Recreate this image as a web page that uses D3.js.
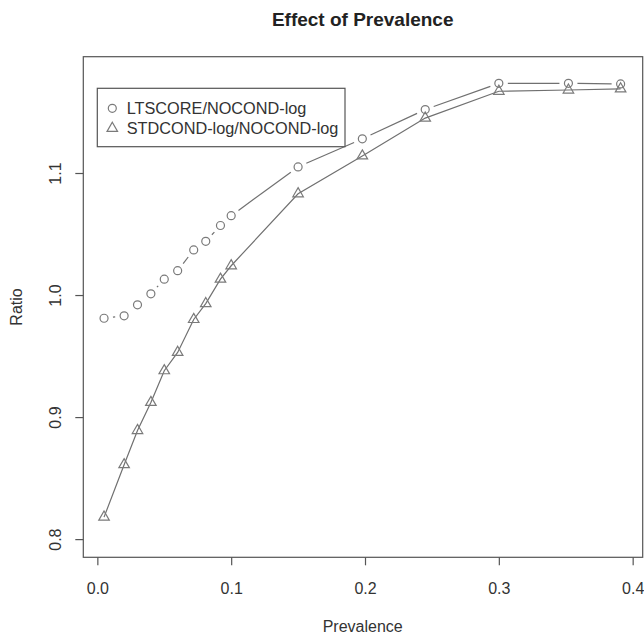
<!DOCTYPE html>
<html>
<head>
<meta charset="utf-8">
<script src="https://d3js.org/d3.v7.min.js"></script>
<style>
  body { margin: 0; background: #fff; }
  text { font-family: "Liberation Sans", Arial, Helvetica, sans-serif; fill: #333; }
</style>
</head>
<body>
<svg id="chart" width="644" height="636"></svg>
<script>
// values
const prevalence = [0.005, 0.02, 0.03, 0.04, 0.05, 0.06, 0.072, 0.081, 0.092, 0.1, 0.15, 0.198, 0.245, 0.3, 0.352, 0.391];
const ltscore   = [0.981, 0.983, 0.992, 1.001, 1.013, 1.020, 1.037, 1.044, 1.057, 1.065, 1.105, 1.128, 1.152, 1.1735, 1.1735, 1.173];
const stdcond   = [0.818, 0.861, 0.889, 0.912, 0.938, 0.953, 0.980, 0.993, 1.013, 1.024, 1.083, 1.114, 1.145, 1.167, 1.168, 1.169];
const xTicks = [0, 0.1, 0.2, 0.3, 0.4];
const yTicks = [0.8, 0.9, 1.0, 1.1];
const seriesNames = ["LTSCORE/NOCOND-log", "STDCOND-log/NOCOND-log"];

const svg = d3.select("#chart");
const plotL = 83.3, plotR = 642.7, plotT = 56.7, plotB = 557.3;
const axisCol = "#555", lineCol = "#707070", ptCol = "#7a7a7a";

const x = d3.scaleLinear().domain([-0.0105, 0.4075]).range([plotL, plotR]);
const y = d3.scaleLinear().domain([0.7851, 1.1953]).range([plotB, plotT]);

// box
svg.append("rect")
  .attr("x", plotL).attr("y", plotT)
  .attr("width", plotR - plotL).attr("height", plotB - plotT)
  .attr("fill", "none").attr("stroke", axisCol).attr("stroke-width", 1.2);

// axes
const xAxis = svg.append("g")
  .attr("transform", `translate(0,${plotB})`)
  .call(d3.axisBottom(x).tickValues(xTicks).tickSize(8).tickPadding(17).tickFormat(d3.format(".1f")));
const yAxis = svg.append("g")
  .attr("transform", `translate(${plotL},0)`)
  .call(d3.axisLeft(y).tickValues(yTicks).tickSize(8).tickFormat(d3.format(".1f")));

[xAxis, yAxis].forEach(a => {
  a.select(".domain").remove();
  a.selectAll(".tick line").attr("stroke", axisCol).attr("stroke-width", 1.2);
  a.selectAll(".tick text").attr("fill", "#333").style("font-size", "16px")
    .style("font-family", "'Liberation Sans', Arial, sans-serif");
});
yAxis.selectAll(".tick text")
  .attr("x", null).attr("dy", null)
  .attr("text-anchor", "middle")
  .attr("transform", "translate(-28,0) rotate(-90)")
  .attr("dy", "0.35em");

// circle series: type "b" style, segments stop short of points
const gap = 9;
const pts1 = prevalence.map((p, i) => [x(p), y(ltscore[i])]);
for (let i = 0; i < pts1.length - 1; i++) {
  const [x0, y0] = pts1[i], [x1, y1] = pts1[i + 1];
  const len = Math.hypot(x1 - x0, y1 - y0);
  if (len <= 2 * gap) continue;
  const ux = (x1 - x0) / len, uy = (y1 - y0) / len;
  svg.append("line")
    .attr("x1", x0 + ux * gap).attr("y1", y0 + uy * gap)
    .attr("x2", x1 - ux * gap).attr("y2", y1 - uy * gap)
    .attr("stroke", lineCol).attr("stroke-width", 1.2);
}
svg.append("g").selectAll("circle")
  .data(pts1).join("circle")
  .attr("cx", d => d[0]).attr("cy", d => d[1]).attr("r", 4)
  .attr("fill", "none").attr("stroke", ptCol).attr("stroke-width", 1.2);

// triangle series: line through the points
const pts2 = prevalence.map((p, i) => [x(p), y(stdcond[i])]);
svg.append("path")
  .datum(pts2)
  .attr("d", d3.line())
  .attr("fill", "none").attr("stroke", lineCol).attr("stroke-width", 1.2);
const tri = d3.symbol().type(d3.symbolTriangle).size(48);
svg.append("g").selectAll("path")
  .data(pts2).join("path")
  .attr("d", tri)
  .attr("transform", d => `translate(${d[0]},${d[1]})`)
  .attr("fill", "none").attr("stroke", ptCol).attr("stroke-width", 1.2);

// legend
const lg = svg.append("g");
lg.append("rect")
  .attr("x", 97.3).attr("y", 88.3).attr("width", 247.7).attr("height", 58.4)
  .attr("fill", "#fff").attr("stroke", axisCol).attr("stroke-width", 1.2);
lg.append("circle").attr("cx", 112.3).attr("cy", 108.3).attr("r", 4)
  .attr("fill", "none").attr("stroke", ptCol).attr("stroke-width", 1.2);
lg.append("path").attr("d", tri).attr("transform", "translate(112.3,128.3)")
  .attr("fill", "none").attr("stroke", ptCol).attr("stroke-width", 1.2);
seriesNames.forEach((name, i) => {
  lg.append("text")
    .attr("x", 126.7).attr("y", 108.3 + i * 20).attr("dy", "0.36em")
    .style("font-size", "16.3px").text(name);
});

// titles
svg.append("text")
  .attr("x", 362.7).attr("y", 26).attr("text-anchor", "middle")
  .style("font-size", "19px").style("font-weight", "bold").style("fill", "#222")
  .text("Effect of Prevalence");
svg.append("text")
  .attr("x", 362.7).attr("y", 632).attr("text-anchor", "middle")
  .style("font-size", "16px").text("Prevalence");
svg.append("text")
  .attr("transform", "translate(22,307) rotate(-90)").attr("text-anchor", "middle")
  .style("font-size", "16px").text("Ratio");
</script>
</body>
</html>
